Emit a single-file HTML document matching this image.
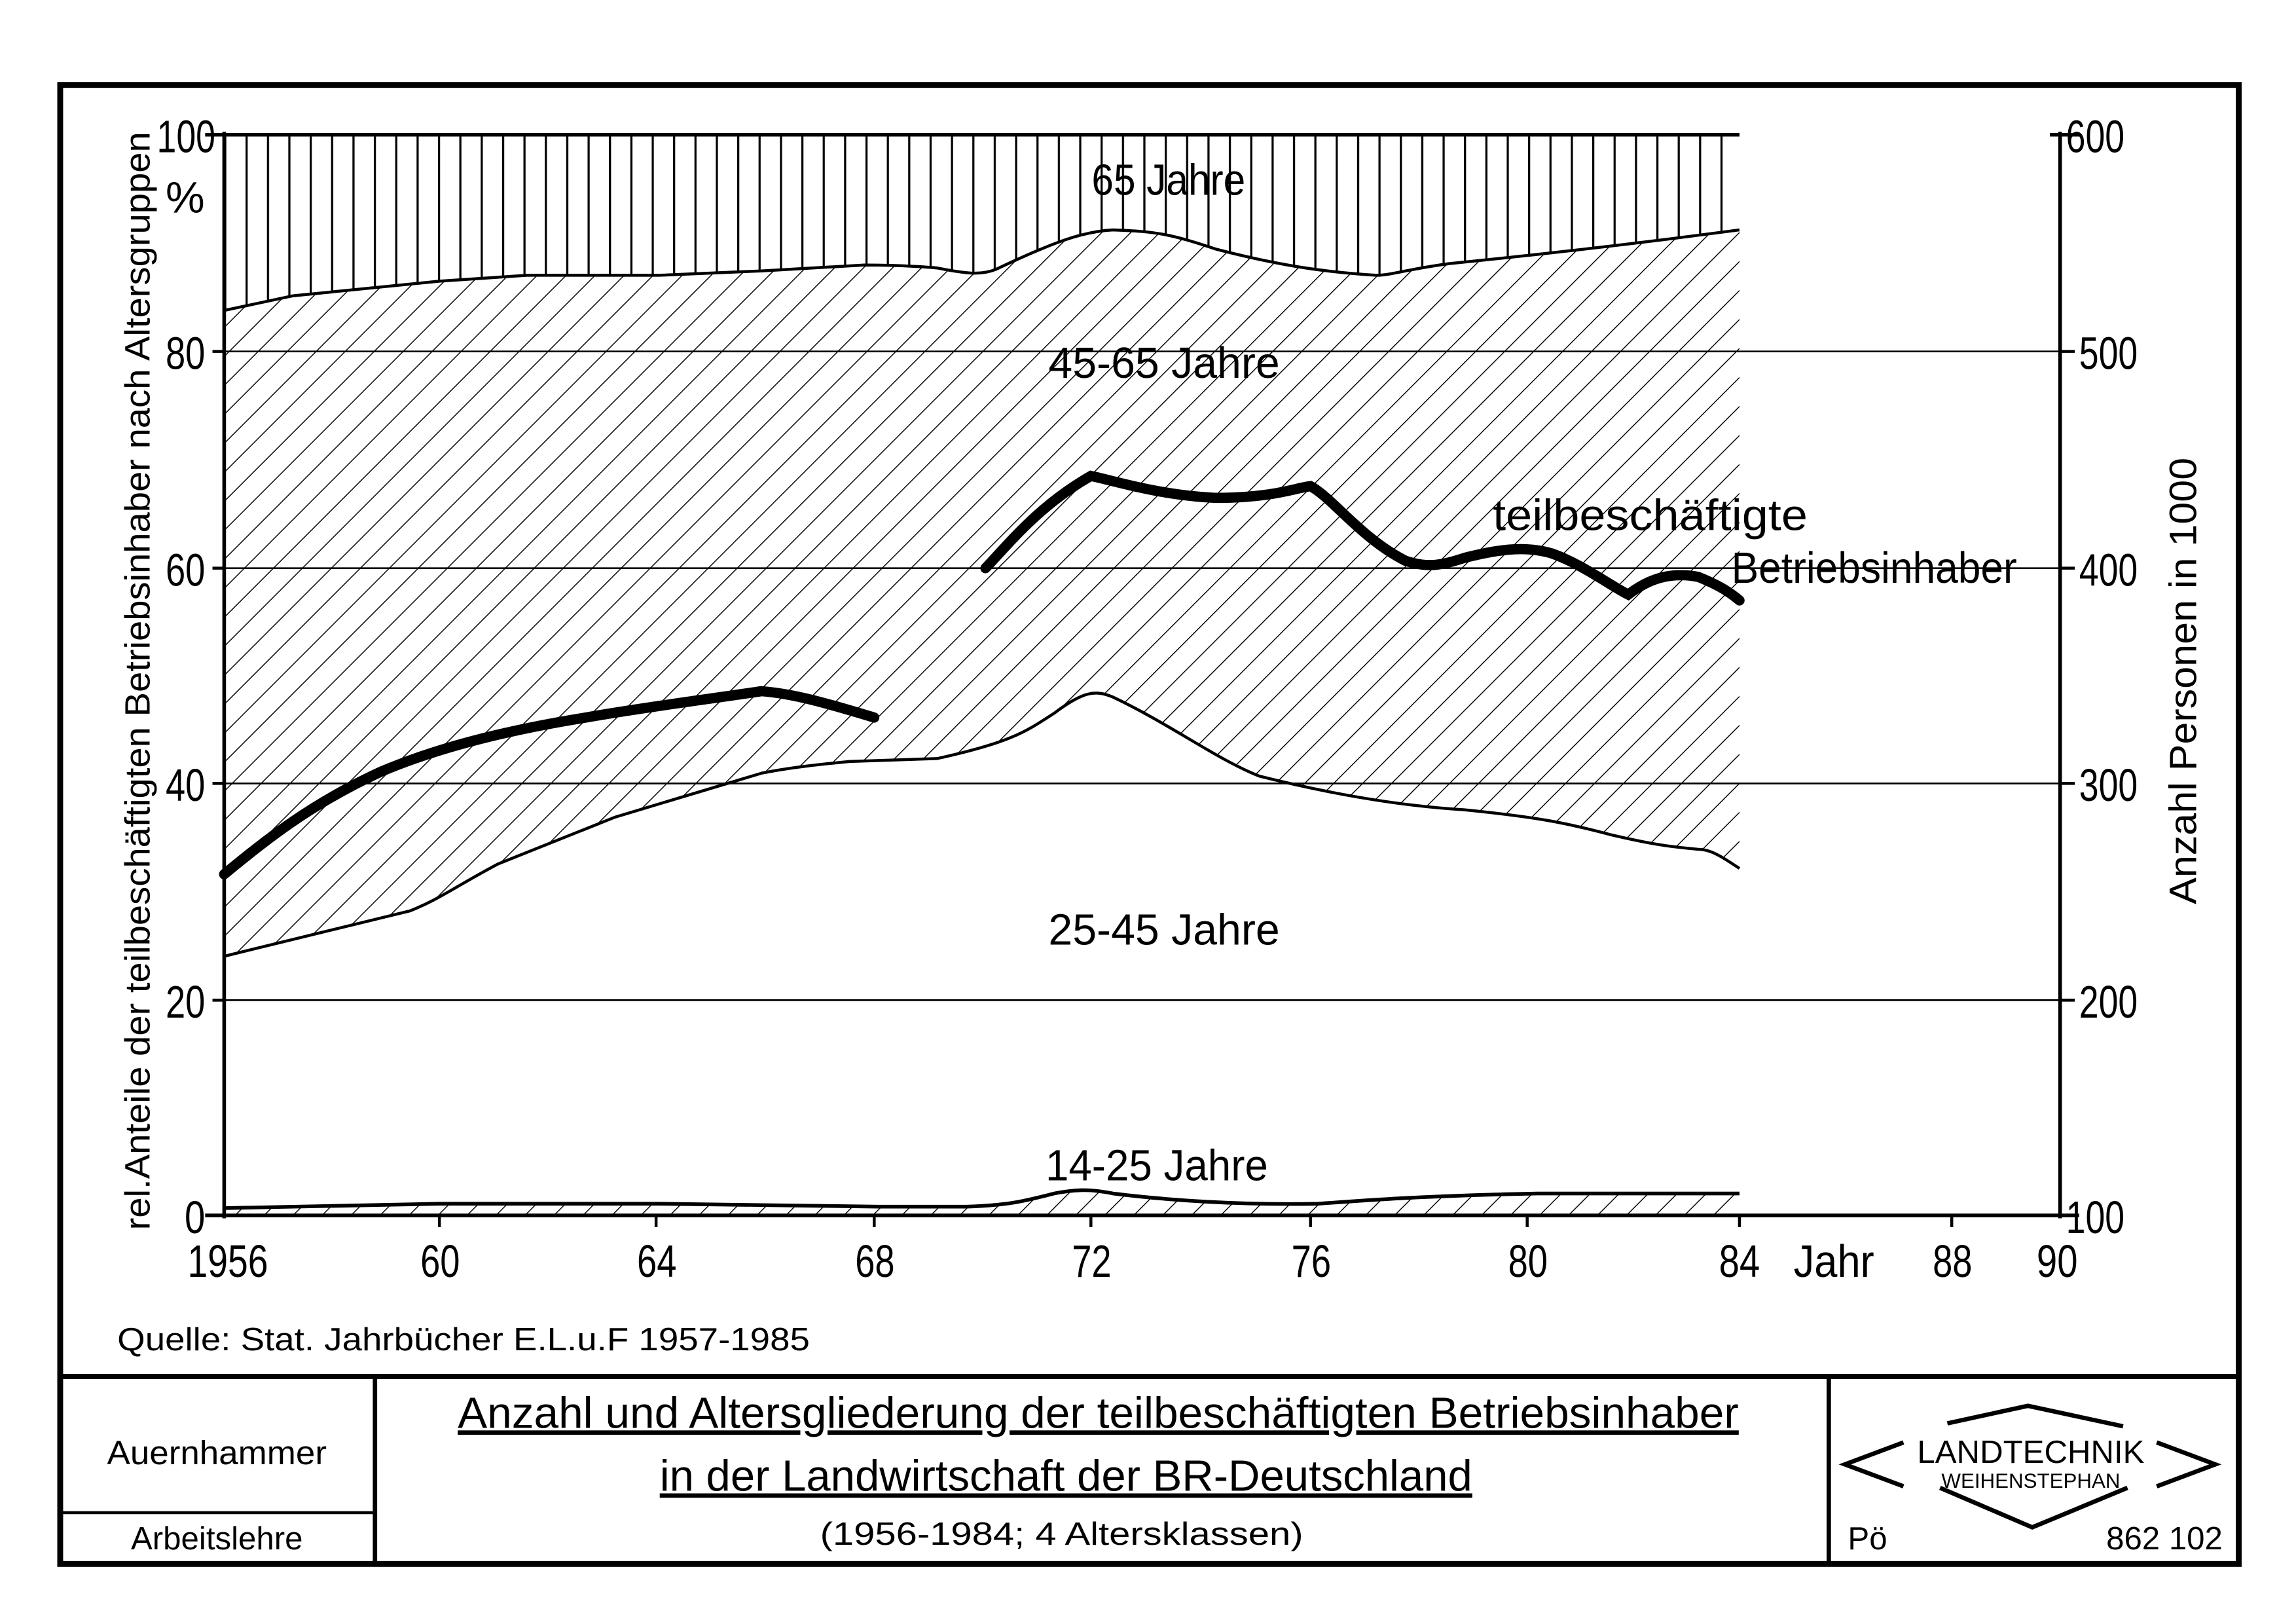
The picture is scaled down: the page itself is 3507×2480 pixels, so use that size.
<!DOCTYPE html>
<html><head><meta charset="utf-8"><style>
html,body{margin:0;padding:0;background:#fff;}
svg{display:block;}
text{font-family:"Liberation Sans Narrow","Liberation Sans",sans-serif;fill:#000;}
</style></head><body>
<svg width="3507" height="2480" viewBox="0 0 1568 1109" xmlns="http://www.w3.org/2000/svg">
<defs>
<pattern id="diag" patternUnits="userSpaceOnUse" width="14" height="14" patternTransform="rotate(45)">
<line x1="0" y1="0" x2="0" y2="14" stroke="#000" stroke-width="1.3"/>
</pattern>
<pattern id="vert" patternUnits="userSpaceOnUse" width="14.6" height="20" x="153">
<line x1="0.7" y1="0" x2="0.7" y2="20" stroke="#000" stroke-width="1.5"/>
</pattern>
</defs>
<rect width="1568" height="1109" fill="#fff"/>
<rect x="41" y="58" width="1488" height="1010" fill="none" stroke="#000" stroke-width="4"/>
<line x1="41" y1="940" x2="1529" y2="940" stroke="#000" stroke-width="3.5"/>
<line x1="256" y1="940" x2="256" y2="1068" stroke="#000" stroke-width="3"/>
<line x1="1249" y1="940" x2="1249" y2="1068" stroke="#000" stroke-width="3"/>
<line x1="41" y1="1033" x2="256" y2="1033" stroke="#000" stroke-width="2"/>

<path d="M153,92 L1188,92 L1188,157 C1120,166 1050,174 990,180 C960,184 950,188 940,188 C910,186 880,183 830,170 C800,160 790,158 760,157 C740,158 720,165 680,184 C670,188 660,187 640,183 C620,181 600,181 590,181 L520,185 L450,188 L360,188 L300,192 L200,202 L153,212 Z" fill="url(#vert)"/>
<path d="M153,212 L200,202 L300,192 L360,188 L450,188 L520,185 L590,181 C620,181 640,183 640,183 C660,187 670,188 680,184 C720,165 740,158 760,157 C790,158 800,160 830,170 C880,183 910,186 940,188 C950,188 960,184 990,180 C1050,174 1120,166 1188,157 L1188,593 C1180,588 1170,580 1160,580 C1140,578 1130,577 1100,570 C1070,562 1050,558 1000,553 C950,550 900,540 860,530 C830,518 800,495 760,476 C748,471 740,472 720,487 C700,500 690,507 640,518 L580,520 C560,522 540,524 520,528 L420,558 L340,590 C310,606 300,614 280,622 L153,653 Z" fill="url(#diag)"/>
<path d="M153,212 L200,202 L300,192 L360,188 L450,188 L520,185 L590,181 C620,181 640,183 640,183 C660,187 670,188 680,184 C720,165 740,158 760,157 C790,158 800,160 830,170 C880,183 910,186 940,188 C950,188 960,184 990,180 C1050,174 1120,166 1188,157" fill="none" stroke="#000" stroke-width="2"/>
<path d="M153,653 L280,622 C300,614 310,606 340,590 L420,558 L520,528 C540,524 560,522 580,520 L640,518 C690,507 700,500 720,487 C740,472 748,471 760,476 C800,495 830,518 860,530 C900,540 950,550 1000,553 C1050,558 1070,562 1100,570 C1130,577 1140,578 1160,580 C1170,580 1180,588 1188,593" fill="none" stroke="#000" stroke-width="2"/>
<path d="M153,825 L300,822 L450,822 L600,824 L660,824 C690,823 700,820 720,815 C735,812 745,812 760,815 C800,820 850,823 900,822 C930,820 960,817 1050,815 L1188,815 L1188,830 L153,830 Z" fill="url(#diag)"/>
<path d="M153,825 L300,822 L450,822 L600,824 L660,824 C690,823 700,820 720,815 C735,812 745,812 760,815 C800,820 850,823 900,822 C930,820 960,817 1050,815 L1188,815" fill="none" stroke="#000" stroke-width="2.5"/>

<g stroke="#000" stroke-width="1.2">
<line x1="153" y1="240" x2="1407" y2="240"/>
<line x1="153" y1="388" x2="1407" y2="388"/>
<line x1="153" y1="535" x2="1407" y2="535"/>
<line x1="153" y1="683" x2="1407" y2="683"/>
</g>
<g stroke="#000" stroke-width="2.5">
<line x1="153" y1="90" x2="153" y2="832"/>
<line x1="1407" y1="90" x2="1407" y2="832"/>
<line x1="140" y1="830" x2="1420" y2="830"/>
<line x1="140" y1="92" x2="1188" y2="92"/>
<line x1="1400" y1="92" x2="1420" y2="92"/>
</g>
<g stroke="#000" stroke-width="2">
<line x1="145" y1="240" x2="153" y2="240"/><line x1="145" y1="388" x2="153" y2="388"/><line x1="145" y1="535" x2="153" y2="535"/><line x1="145" y1="683" x2="153" y2="683"/>
<line x1="1407" y1="240" x2="1417" y2="240"/><line x1="1407" y1="388" x2="1417" y2="388"/><line x1="1407" y1="535" x2="1417" y2="535"/><line x1="1407" y1="683" x2="1417" y2="683"/>
<line x1="300" y1="830" x2="300" y2="838"/><line x1="448" y1="830" x2="448" y2="838"/><line x1="597" y1="830" x2="597" y2="838"/><line x1="745" y1="830" x2="745" y2="838"/><line x1="895" y1="830" x2="895" y2="838"/><line x1="1043" y1="830" x2="1043" y2="838"/><line x1="1188" y1="830" x2="1188" y2="838"/><line x1="1333" y1="830" x2="1333" y2="838"/>
</g>

<path d="M153,597 C180,575 210,550 260,527 C300,510 350,498 400,490 C440,483 480,478 520,472 C545,474 570,482 597,490" fill="none" stroke="#000" stroke-width="7" stroke-linecap="round"/>
<path d="M673,388 C690,370 710,345 745,325 C760,328 790,338 830,340 C870,340 885,333 895,332 C910,340 930,368 960,383 C975,388 985,386 1000,381 C1020,376 1040,372 1060,378 C1080,385 1100,400 1112,406 C1125,396 1140,390 1160,394 C1175,400 1182,405 1188,410" fill="none" stroke="#000" stroke-width="7" stroke-linecap="round"/>

<g font-size="31" text-anchor="end" lengthAdjust="spacingAndGlyphs">
<text x="147" y="104" textLength="40" lengthAdjust="spacingAndGlyphs">100</text>
<text x="140" y="252" textLength="27" lengthAdjust="spacingAndGlyphs">80</text>
<text x="140" y="400" textLength="27" lengthAdjust="spacingAndGlyphs">60</text>
<text x="140" y="547" textLength="27" lengthAdjust="spacingAndGlyphs">40</text>
<text x="140" y="695" textLength="27" lengthAdjust="spacingAndGlyphs">20</text>
<text x="140" y="842" textLength="14" lengthAdjust="spacingAndGlyphs">0</text>
</g>
<text x="113" y="145" font-size="30">%</text>
<g font-size="31">
<text x="1411" y="104" textLength="40" lengthAdjust="spacingAndGlyphs">600</text>
<text x="1420" y="252" textLength="40" lengthAdjust="spacingAndGlyphs">500</text>
<text x="1420" y="400" textLength="40" lengthAdjust="spacingAndGlyphs">400</text>
<text x="1420" y="547" textLength="40" lengthAdjust="spacingAndGlyphs">300</text>
<text x="1420" y="695" textLength="40" lengthAdjust="spacingAndGlyphs">200</text>
<text x="1411" y="842" textLength="40" lengthAdjust="spacingAndGlyphs">100</text>
</g>
<g font-size="31">
<text x="128" y="872" textLength="55" lengthAdjust="spacingAndGlyphs">1956</text>
<text x="287" y="872" textLength="27" lengthAdjust="spacingAndGlyphs">60</text>
<text x="435" y="872" textLength="27" lengthAdjust="spacingAndGlyphs">64</text>
<text x="584" y="872" textLength="27" lengthAdjust="spacingAndGlyphs">68</text>
<text x="732" y="872" textLength="27" lengthAdjust="spacingAndGlyphs">72</text>
<text x="882" y="872" textLength="27" lengthAdjust="spacingAndGlyphs">76</text>
<text x="1030" y="872" textLength="27" lengthAdjust="spacingAndGlyphs">80</text>
<text x="1174" y="872" textLength="28" lengthAdjust="spacingAndGlyphs">84</text>
<text x="1225" y="872" textLength="55" lengthAdjust="spacingAndGlyphs">Jahr</text>
<text x="1320" y="872" textLength="27" lengthAdjust="spacingAndGlyphs">88</text>
<text x="1391" y="872" textLength="28" lengthAdjust="spacingAndGlyphs">90</text>
</g>
<text transform="translate(102,465) rotate(-90)" font-size="24" text-anchor="middle" textLength="750" lengthAdjust="spacingAndGlyphs">rel.Anteile der teilbeschäftigten Betriebsinhaber nach Altersgruppen</text>
<text transform="translate(1500,465) rotate(-90)" font-size="26" text-anchor="middle" textLength="305" lengthAdjust="spacingAndGlyphs">Anzahl Personen in 1000</text>
<g font-size="30" text-anchor="middle">
<text x="798" y="133" textLength="105" lengthAdjust="spacingAndGlyphs">65 Jahre</text>
<text x="795" y="258" textLength="158" lengthAdjust="spacingAndGlyphs">45-65 Jahre</text>
<text x="795" y="645" textLength="158" lengthAdjust="spacingAndGlyphs">25-45 Jahre</text>
<text x="790" y="806" textLength="152" lengthAdjust="spacingAndGlyphs">14-25 Jahre</text>
<text x="1127" y="362" textLength="215" lengthAdjust="spacingAndGlyphs">teilbeschäftigte</text>
<text x="1280" y="398" textLength="195" lengthAdjust="spacingAndGlyphs">Betriebsinhaber</text>
</g>
<text x="80" y="922" font-size="22" textLength="473" lengthAdjust="spacingAndGlyphs">Quelle: Stat. Jahrbücher E.L.u.F 1957-1985</text>
<text x="148" y="1000" font-size="23" text-anchor="middle" textLength="150" lengthAdjust="spacingAndGlyphs">Auernhammer</text>
<text x="148" y="1058" font-size="22" text-anchor="middle">Arbeitslehre</text>
<g font-size="30" text-anchor="middle" text-decoration="underline">
<text x="750" y="975" textLength="875" lengthAdjust="spacingAndGlyphs">Anzahl und Altersgliederung der teilbeschäftigten Betriebsinhaber</text>
<text x="728" y="1018" textLength="555" lengthAdjust="spacingAndGlyphs">in der Landwirtschaft der BR-Deutschland</text>
</g>
<text x="725" y="1055" font-size="22" text-anchor="middle" textLength="330" lengthAdjust="spacingAndGlyphs">(1956-1984; 4 Altersklassen)</text>
<g fill="none" stroke="#000" stroke-width="3">
<polyline points="1300,985 1260,1000 1300,1015"/>
<polyline points="1473,985 1513,1000 1473,1015"/>
<polyline points="1330,972 1385,960 1450,974"/>
<polyline points="1325,1016 1388,1043 1453,1016"/>
</g>
<text x="1387" y="999" font-size="22" text-anchor="middle">LANDTECHNIK</text>
<text x="1387" y="1016" font-size="14" text-anchor="middle">WEIHENSTEPHAN</text>
<text x="1262" y="1058" font-size="22">Pö</text>
<text x="1518" y="1058" font-size="22" text-anchor="end">862 102</text>
</svg>
</body></html>
